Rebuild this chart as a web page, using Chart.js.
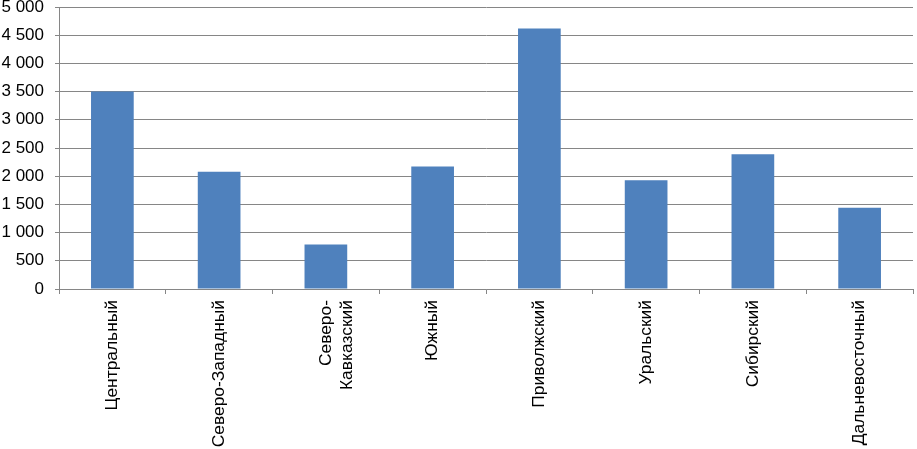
<!DOCTYPE html>
<html>
<head>
<meta charset="utf-8">
<script src="https://cdn.jsdelivr.net/npm/chart.js@4/dist/chart.umd.min.js"></script>
<style>
    html, body { margin: 0; padding: 0; background: #fff; }
    #wrap { width: 917px; height: 449px; }
</style>
</head>
<body>
<div id="wrap"><canvas id="regions"></canvas></div>
<script>
    const REGIONS = [
        "Центральный",
        "Северо-Западный",
        ["Северо-", "Кавказский"],
        "Южный",
        "Приволжский",
        "Уральский",
        "Сибирский",
        "Дальневосточный",
    ];
    const VALUES = [3500, 2080, 790, 2170, 4620, 1930, 2390, 1440];
    const Y_MAX = 5000;
    const Y_STEP = 500;

    function spaced(v) {
        return String(v).replace(/\B(?=(\d{3})+(?!\d))/g, " ");
    }

    Chart.defaults.font.family = "'Liberation Sans', Arial, sans-serif";
    Chart.defaults.font.size = 17;
    Chart.defaults.color = "#000";

    new Chart(document.getElementById("regions"), {
        type: "bar",
        data: {
            labels: REGIONS,
            datasets: [
                {
                    data: VALUES,
                    backgroundColor: "#4F81BD",
                    categoryPercentage: 1,
                    barPercentage: 0.4,
                },
            ],
        },
        options: {
            responsive: true,
            maintainAspectRatio: false,
            animation: false,
            layout: { padding: { top: 0, right: 4, left: 0, bottom: 0 } },
            plugins: {
                legend: { display: false },
                tooltip: { enabled: false },
            },
            scales: {
                x: {
                    afterFit: (scale) => {
                        scale.height = 160; // ось X на y≈289
                        scale.paddingLeft = 0;
                        scale.paddingRight = 0;
                    },
                    grid: {
                        drawOnChartArea: false, // только засечки
                        drawTicks: true,
                        tickLength: 5,
                        color: "#868686",
                    },
                    border: { color: "#868686" },
                    ticks: {
                        minRotation: 90,
                        maxRotation: 90,
                        padding: 6,
                        font: { size: 17.4 },
                    },
                },
                y: {
                    min: 0,
                    max: Y_MAX,
                    afterFit: (scale) => {
                        scale.width = 59;
                        scale.paddingTop = 7;
                        scale.paddingBottom = 0;
                    },
                    grid: {
                        color: "#868686",
                        tickLength: 4,
                    },
                    border: { color: "#868686" },
                    ticks: {
                        stepSize: Y_STEP,
                        padding: 11,
                        callback: (v) => spaced(v),
                    },
                },
            },
        },
    });
</script>
</body>
</html>
